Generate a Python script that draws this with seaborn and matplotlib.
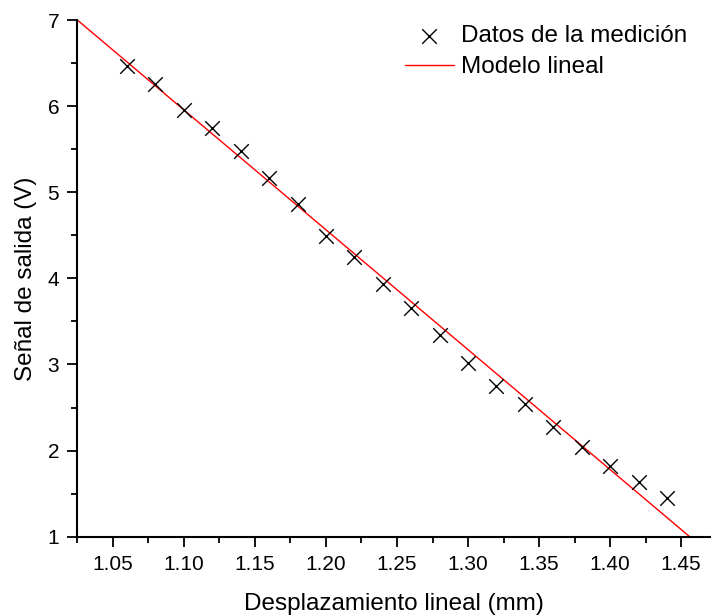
import matplotlib
matplotlib.use("Agg")
import matplotlib.pyplot as plt
import numpy as np
import pandas as pd
import seaborn as sns
from matplotlib.ticker import MultipleLocator

# Measured points
desplazamiento = [1.06, 1.08, 1.10, 1.12, 1.14, 1.16, 1.18, 1.20, 1.22, 1.24,
                  1.26, 1.28, 1.30, 1.32, 1.34, 1.36, 1.38, 1.40, 1.42, 1.44]
senal = [6.47, 6.26, 5.96, 5.75, 5.48, 5.17, 4.86, 4.49, 4.25, 3.94,
         3.65, 3.34, 3.02, 2.75, 2.54, 2.27, 2.04, 1.82, 1.64, 1.45]

# Linear model endpoints
modelo_x = [1.025, 1.456]
modelo_y = [7.0, 1.0]

x_ticks = [1.05, 1.10, 1.15, 1.20, 1.25, 1.30, 1.35, 1.40, 1.45]
y_ticks = [1, 2, 3, 4, 5, 6, 7]

sns.set_style("ticks", rc={"text.color": "black", "axes.labelcolor": "black",
                           "xtick.color": "black", "ytick.color": "black",
                           "axes.edgecolor": "black"})
plt.rcParams["font.family"] = ["Liberation Sans", "DejaVu Sans"]

datos = pd.DataFrame({"x": desplazamiento, "y": senal})
modelo = pd.DataFrame({"x": modelo_x, "y": modelo_y})

fig = plt.figure(figsize=(7.11, 6.16), dpi=100)
ax = fig.add_axes([77.3 / 711, 1 - 536.7 / 616, (711 - 77.3) / 711, (536.7 - 20) / 616])

sns.lineplot(data=modelo, x="x", y="y", ax=ax, color="red", linewidth=1.0,
             label="Modelo lineal", zorder=2)
sns.scatterplot(data=datos, x="x", y="y", ax=ax, marker="x", s=110,
                color="black", linewidth=1.0, label="Datos de la medición", zorder=3)

ax.set_xlim(1.025, 1.471)
ax.set_ylim(1, 7)
ax.set_xticks(x_ticks)
ax.set_xticklabels([f"{v:.2f}" for v in x_ticks])
ax.set_yticks(y_ticks)
ax.xaxis.set_minor_locator(MultipleLocator(0.025))
ax.yaxis.set_minor_locator(MultipleLocator(0.5))

sns.despine(ax=ax)
for side in ["left", "bottom"]:
    ax.spines[side].set_linewidth(1.5)
ax.tick_params(which="major", direction="out", length=7, width=1.3, labelsize=15)
ax.tick_params(which="minor", direction="out", length=4, width=1.3)
ax.tick_params(axis="x", which="major", pad=6)
ax.tick_params(axis="y", which="major", pad=6)

ax.set_xlabel("Desplazamiento lineal (mm)", fontsize=17.5, labelpad=14)
ax.set_ylabel("Señal de salida (V)", fontsize=17.5, labelpad=8)

handles, labels = ax.get_legend_handles_labels()
order = [1, 0]
ax.legend([handles[i] for i in order], [labels[i] for i in order],
          loc="upper left", bbox_to_anchor=(405 / 711, 1 - 25 / 616),
          bbox_transform=fig.transFigure, frameon=False, fontsize=17.5,
          borderpad=0, borderaxespad=0, handlelength=2.0, handletextpad=0.3,
          labelspacing=0.38)

fig.savefig("out.png", dpi=100)
